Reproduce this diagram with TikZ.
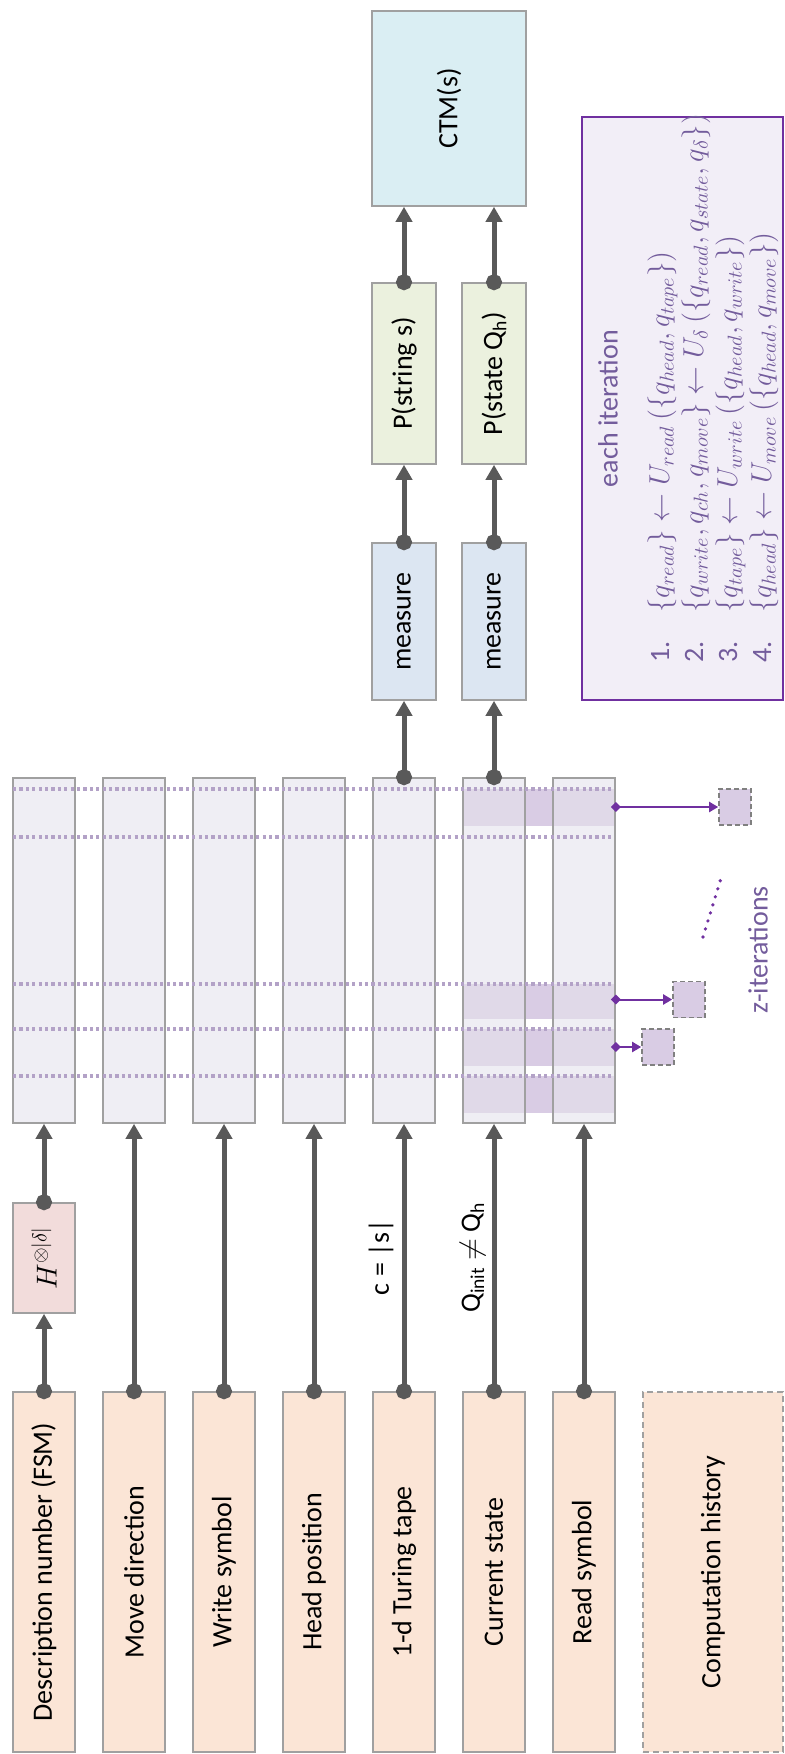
\documentclass[tikz,border=0pt]{standalone}
\usepackage{fontspec}
\setmainfont{Carlito}
\usepackage{graphicx}
\usepackage{amsmath}
\usepackage{amssymb}
\usepackage{tikz}
\usetikzlibrary{arrows.meta,backgrounds,positioning,calc}
\definecolor{inputfill}{HTML}{FBE5D6}
\definecolor{regfill}{HTML}{E5E2EC}
\definecolor{hfill}{HTML}{F2DCDB}
\definecolor{measfill}{HTML}{DCE6F2}
\definecolor{probfill}{HTML}{EBF1DE}
\definecolor{ctmfill}{HTML}{DAEEF3}
\definecolor{iterfill}{HTML}{F2EEF7}
\definecolor{iterdraw}{HTML}{7030A0}
\definecolor{itertext}{HTML}{735C9C}
\definecolor{bandfill}{HTML}{D9CCE4}
\definecolor{dotline}{HTML}{B3A2C7}
\definecolor{wiregray}{HTML}{595959}
\definecolor{boxgray}{HTML}{A0A0A0}
\newcommand{\vlabel}[1]{\rotatebox{90}{#1}}

\begin{document}
\begin{tikzpicture}[font=\fontsize{14}{17}\selectfont]
\tikzstyle{main}=[rectangle, draw=boxgray, line width=0.8pt, inner sep=0pt, minimum width=31pt, node distance=45pt]
\tikzstyle{input}=[main, fill=inputfill, minimum height=180pt]
\tikzstyle{reg}=[main, fill=regfill, fill opacity=0.6, minimum height=172.5pt]
\tikzstyle{hgate}=[main, fill=hfill, minimum height=55pt]
\tikzstyle{meas}=[main, fill=measfill, minimum width=32pt, minimum height=78.5pt]
\tikzstyle{prob}=[main, fill=probfill, minimum width=32pt, minimum height=90.5pt]
\tikzstyle{zbox}=[main, draw=gray, dash pattern=on 2.5pt off 1.5pt, fill=bandfill, minimum width=16pt, minimum height=18pt]
\tikzstyle{connect}=[{Circle[length=8pt]}-{Triangle[length=7.5pt,width=8pt]}, line width=2.5pt, draw=wiregray, shorten <=-4pt]
\tikzstyle{zarrow}=[{Diamond[length=5pt,width=5pt]}-{Triangle[length=4.5pt,width=5pt]}, line width=1pt, draw=iterdraw, shorten <=-2.5pt]
\tikzstyle{iterline}=[draw=dotline, line width=1.6pt, dash pattern=on 1.6pt off 1.6pt]
\tikzstyle{band}=[fill=bandfill]

\useasboundingbox (0,0) rectangle (392.5pt,-877pt);

  % inputs
  \node[input] (desc)  at (22pt,-786pt)  {\vlabel{Description number (FSM)}};
  \node[input] (move)  [right of =desc]  {\vlabel{Move direction}};
  \node[input] (write) [right of =move]  {\vlabel{Write symbol}};
  \node[input] (head)  [right of =write] {\vlabel{Head position}};
  \node[input] (tape)  [right of =head]  {\vlabel{1-d Turing tape}};
  \node[input] (state) [right of =tape]  {\vlabel{Current state}};
  \node[input] (read)  [right of =state] {\vlabel{Read symbol}};
  \node[input, dash pattern=on 3pt off 2pt, minimum width=70pt] (hist) [right of =read, xshift=19.5pt] {\vlabel{Computation history}};

  \node[hgate] (had) at (22pt,-629pt) {\vlabel{$H^{\otimes|\delta|}$}};

  % registers
  \node[reg] (descq)  at (22pt,-475.25pt) {};
  \node[reg] (moveq)  [right of =descq]  {};
  \node[reg] (writeq) [right of =moveq]  {};
  \node[reg] (headq)  [right of =writeq] {};
  \node[reg] (tapeq)  [right of =headq]  {};
  \node[reg] (stateq) [right of =tapeq]  {};
  \node[reg] (readq)  [right of =stateq] {};

  \begin{scope}[on background layer]
  \foreach \a/\b in {394.5/413, 492/509.5, 514.5/533, 538/556.5}
    \fill[band] (231.25pt,-\a pt) rectangle (307.5pt,-\b pt);
  \end{scope}
  \foreach \y in {394.5, 418.5, 492, 514.5, 538}
    \draw[iterline] (6.5pt,-\y pt) -- (307pt,-\y pt);

  \node[zbox] (zbox1) at (367.5pt,-403.5pt) {};
  \node[zbox] (zbox2) at (344.5pt,-499.75pt) {};
  \node[zbox] (zbox3) at (329pt,-523.5pt) {};
  \coordinate (dotsa) at (351.5pt,-468.5pt);
  \coordinate (dotsb) at (361pt,-437.5pt);
  \draw[draw=iterdraw, line width=1.8pt, line cap=round, dash pattern=on 0pt off 4.2pt] (dotsa) -- (dotsb);
  \node[text=itertext] (zlabel) at (379pt,-475pt) {\vlabel{z-iterations}};

  % outputs
  \node[meas] (meas1) at (202pt,-310.75pt) {\vlabel{measure}};
  \node[meas] (meas2) at (247pt,-310.75pt) {\vlabel{measure}};
  \node[prob] (pstr)   at (202pt,-186.75pt) {\vlabel{P(string s)}};
  \node[prob] (pstate) at (247pt,-186.75pt) {\vlabel{P(state Q\textsubscript{h})}};
  \node[main, fill=ctmfill, minimum width=77pt, minimum height=97.5pt] (ctm) at (224.5pt,-54.25pt) {\vlabel{CTM(s)}};

  \node[main, draw=iterdraw, fill=iterfill, minimum width=100.5pt, minimum height=291.5pt] (iterbox) at (341.25pt,-204.25pt) {};
  \node[text=itertext] (itertitle) at (304pt,-204.25pt) {\vlabel{each iteration}};
  \node[text=itertext, anchor=south west, inner sep=0pt] (iterlist) at (322.5pt,-331.5pt) {\vlabel{%
    \begin{tabular}{@{}p{25pt}@{}l@{}}
    1. & $\{q_{read}\} \leftarrow U_{read}\,(\{q_{head}, q_{tape}\})$\\
    2. & $\{q_{write}, q_{ch}, q_{move}\} \leftarrow U_{\delta}\,(\{q_{read}, q_{state}, q_{\delta}\})$\\
    3. & $\{q_{tape}\} \leftarrow U_{write}\,(\{q_{head}, q_{write}\})$\\
    4. & $\{q_{head}\} \leftarrow U_{move}\,(\{q_{head}, q_{move}\})$
    \end{tabular}}};

  % wires
  \path (desc) edge [connect] (had);
  \path (had) edge [connect] (descq);
  \path (move) edge [connect] (moveq);
  \path (write) edge [connect] (writeq);
  \path (head) edge [connect] (headq);
  \path (tape) edge [connect] node [left, inner sep=4pt] {\vlabel{c = |s|}} (tapeq);
  \path (state) edge [connect] node [left, inner sep=3pt] {\vlabel{Q\textsubscript{init} $\neq$ Q\textsubscript{h}}} (stateq);
  \path (read) edge [connect] (readq);

  \path (tapeq) edge [connect] (meas1);
  \path (stateq) edge [connect] (meas2);
  \path (meas1) edge [connect] (pstr);
  \path (meas2) edge [connect] (pstate);
  \draw[connect] (pstr.north) -- (pstr.north |- ctm.south);
  \draw[connect] (pstate.north) -- (pstate.north |- ctm.south);

  \draw[zarrow] (readq.east |- zbox1) -- (zbox1);
  \draw[zarrow] (readq.east |- zbox2) -- (zbox2);
  \draw[zarrow] (readq.east |- zbox3) -- (zbox3);

\end{tikzpicture}
\end{document}
